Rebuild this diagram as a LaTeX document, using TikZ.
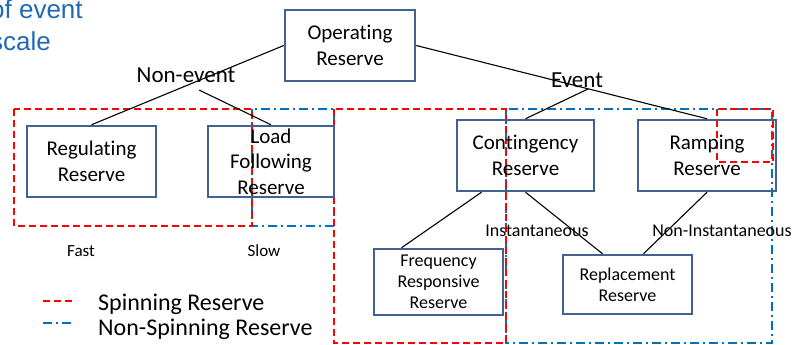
\documentclass[tikz,border=0pt]{standalone}
\usepackage{fontspec}
\setmainfont{Carlito}[Ligatures=NoCommon]
\newfontfamily\arialf{Liberation Sans}
\definecolor{boxc}{HTML}{41618F}
\definecolor{spinred}{HTML}{FF0000}
\definecolor{nonspin}{HTML}{0070C0}
\definecolor{toptxt}{HTML}{1F6AB4}
\tikzset{
  resbox/.style={draw=boxc, line width=2.5pt, inner sep=0pt, align=center, font=\fontsize{21}{25.5}\selectfont},
  smallbox/.style={resbox, font=\fontsize{18}{21}\selectfont},
  treeline/.style={black, line width=1.1pt},
  spinning/.style={spinred, line width=2pt, dash pattern=on 7pt off 4pt},
  nonspinning/.style={nonspin, line width=2pt, dash pattern=on 9pt off 4pt on 2pt off 4pt},
  biglbl/.style={inner sep=0pt, anchor=base, font=\fontsize{23}{27}\selectfont},
  midlbl/.style={inner sep=0pt, anchor=base, font=\fontsize{18}{21}\selectfont},
  smalllbl/.style={inner sep=0pt, anchor=base, font=\fontsize{17}{20}\selectfont},
  legendlbl/.style={inner sep=0pt, anchor=base west, font=\fontsize{24}{28}\selectfont},
  toplbl/.style={inner sep=0pt, anchor=base west, text=toptxt, font=\arialf\fontsize{26}{31}\selectfont}
}
\begin{document}
\begin{tikzpicture}[x=1pt, y=-1pt]
\useasboundingbox (0,0) rectangle (798,345);

% clipped paragraph at top left (cut off in the reference too)
\node[toplbl] (t1) at (-10,19) {of event};
\node[toplbl] (t2) at (-10,51) {scale};

% reserve groupings
\draw[nonspinning] (252,109) rectangle (334,226);
\draw[nonspinning] (506,109) rectangle (772,343);
\draw[spinning] (14,109) rectangle (252,226);
\draw[spinning] (334,109) rectangle (506,343);
\draw[spinning] (717,109) rectangle (773,162);

% boxes
\node[resbox, minimum width=130pt, minimum height=71pt] (op) at (350,45.5) {Operating\\Reserve};
\node[resbox, minimum width=129pt, minimum height=71pt] (reg) at (91.5,161.5) {Regulating\\Reserve};
\node[resbox, minimum width=126pt, minimum height=71pt] (lf) at (271,161.5) {Load\\Following\\Reserve};
\node[resbox, minimum width=137pt, minimum height=71pt] (cont) at (525.5,155.5) {Contingency\\Reserve};
\node[resbox, minimum width=138pt, minimum height=71pt] (ramp) at (707,155.5) {Ramping\\Reserve};
\node[smallbox, minimum width=129pt, minimum height=66pt] (freq) at (438.5,282) {Frequency\\Responsive\\Reserve};
\node[smallbox, minimum width=129pt, minimum height=59pt] (repl) at (627.5,284.5) {Replacement\\Reserve};

% tree connectors
\coordinate (nebr) at (199,90);
\coordinate (evbr) at (588,89);
\draw[treeline] (op.west) -- (reg.north);
\draw[treeline] (nebr) -- (lf.north);
\draw[treeline] (op.east) -- (ramp.north);
\draw[treeline] (evbr) -- (cont.north);
\draw[treeline] ([xshift=-44pt]cont.south) -- ([xshift=-37pt]freq.north);
\draw[treeline] (cont.south) -- ([xshift=-25pt]repl.north);
\draw[treeline] (ramp.south) -- ([xshift=16pt]repl.north);

% labels
\node[biglbl] (nonevent) at (186,83) {Non-event};
\node[biglbl] (event) at (577,88) {Event};
\node[midlbl] (inst) at (537,236) {Instantaneous};
\node[midlbl] (noninst) at (722,236) {Non-Instantaneous};
\node[smalllbl] (fast) at (81,256) {Fast};
\node[smalllbl] (slow) at (264,256) {Slow};

% legend
\draw[spinning] (43,301) -- (76,301);
\draw[nonspinning] (43,323) -- (72,323);
\node[legendlbl] (lgs) at (98,310) {Spinning Reserve};
\node[legendlbl] (lgn) at (98,335) {Non-Spinning Reserve};
\end{tikzpicture}
\end{document}
